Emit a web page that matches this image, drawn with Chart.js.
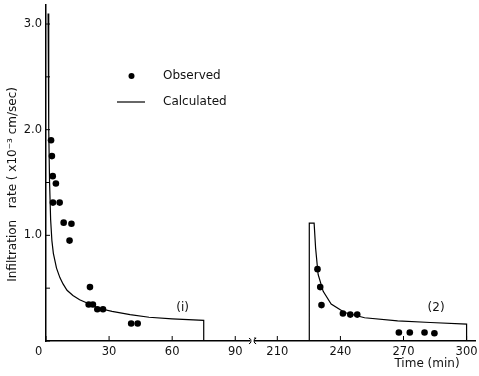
<!DOCTYPE html>
<html>
<head>
<meta charset="utf-8">
<script src="https://cdn.jsdelivr.net/npm/chart.js@4/dist/chart.umd.min.js"></script>
<style>
  html, body { margin: 0; background: #fff; }
  #wrap { width: 479px; height: 376px; }
</style>
</head>
<body>
<div id="wrap"><canvas id="c"></canvas></div>
<script>
// Observed infiltration rate (x10^-3 cm/sec) against time (min)
var obsTime = [2.4, 2.8, 3.2, 4.7, 3.3, 6.5, 8.4, 12.1, 11.2, 20.9, 20.3, 22.3, 24.4, 27.1, 40.5, 43.6,
               229.1, 230.4, 231.0, 241.2, 244.7, 248.0, 267.8, 273.0, 280.0, 284.7];
var obsRate = [1.90, 1.75, 1.56, 1.49, 1.31, 1.31, 1.12, 1.11, 0.95, 0.51, 0.345, 0.345, 0.30, 0.30, 0.165, 0.165,
               0.68, 0.51, 0.34, 0.26, 0.25, 0.25, 0.08, 0.08, 0.08, 0.073];

// Calculated curve, first application (1)
var calc1Time = [1.0, 1.2, 1.4, 1.7, 2.2, 2.8, 3.5, 5.0, 6.6, 8.1, 10, 12.8, 16, 20.6, 25, 31.4, 40, 49, 60, 75, 75];
var calc1Rate = [3.1, 2.6, 2.0, 1.5, 1.15, 0.95, 0.83, 0.69, 0.60, 0.54, 0.48, 0.43, 0.39, 0.35, 0.31, 0.28, 0.25, 0.225, 0.21, 0.195, 0];

// Calculated curve, second application (2)
var calc2Time = [225.2, 225.2, 227.5, 228.2, 229.4, 231.8, 235.6, 242, 251.5, 267.2, 282.8, 300, 300];
var calc2Rate = [0, 1.115, 1.115, 0.88, 0.63, 0.47, 0.35, 0.27, 0.22, 0.19, 0.175, 0.16, 0];

var xTickLabels = [0, 30, 60, 90, 210, 240, 270, 300];
var yTickValues = [0, 0.5, 1.0, 1.5, 2.0, 2.5, 3.0];
var yTickLabels = ['', '', '1.0', '', '2.0', '', '3.0'];

var segLabels = ['(i)', '(2)'];
var segLabelTime = [65, 285.5];
var segLabelRate = [0.31, 0.31];

// the time axis is broken between 90 and 210 min
var BREAK_SHIFT = 100;
function axisX(t) { return t > 150 ? t - BREAK_SHIFT : t; }
function pts(ts, vs) { return ts.map(function (t, i) { return { x: axisX(t), y: vs[i] }; }); }

var FONT = 'DejaVu Sans';
var INK = '#111';

var decor = {
  id: 'decor',
  afterDraw: function (chart) {
    var ctx = chart.ctx, xs = chart.scales.x, ys = chart.scales.y, a = chart.chartArea;
    ctx.save();
    ctx.strokeStyle = '#000';
    ctx.lineWidth = 1;
    // inward tick marks
    ctx.beginPath();
    xTickLabels.forEach(function (t) {
      var px = xs.getPixelForValue(axisX(t));
      ctx.moveTo(px, a.bottom); ctx.lineTo(px, a.bottom - 5);
    });
    yTickValues.forEach(function (v) {
      var py = ys.getPixelForValue(v);
      ctx.moveTo(a.left, py); ctx.lineTo(a.left + 4, py);
    });
    ctx.stroke();
    // axis break mark
    var bx = xs.getPixelForValue(97.5);
    ctx.fillStyle = '#fff';
    ctx.fillRect(bx - 1, a.bottom - 3, 4, 6);
    ctx.beginPath();
    ctx.arc(bx - 3, a.bottom, 3, -Math.PI / 2.5, Math.PI / 2.5);
    ctx.moveTo(bx + 3, a.bottom - 3);
    ctx.arc(bx + 6, a.bottom, 3, Math.PI + Math.PI / 2.5, Math.PI - Math.PI / 2.5, true);
    ctx.stroke();
    // segment labels
    ctx.fillStyle = INK;
    ctx.font = '12px "' + FONT + '"';
    ctx.textAlign = 'center';
    ctx.textBaseline = 'middle';
    segLabels.forEach(function (s, i) {
      ctx.fillText(s, xs.getPixelForValue(axisX(segLabelTime[i])), ys.getPixelForValue(segLabelRate[i]));
    });
    // x title
    ctx.fillText('Time (min)', 427, 364);
    // legend
    ctx.textAlign = 'left';
    ctx.beginPath();
    ctx.arc(131.5, 76, 3, 0, Math.PI * 2);
    ctx.fillStyle = '#000';
    ctx.fill();
    ctx.beginPath();
    ctx.moveTo(117, 102); ctx.lineTo(145, 102);
    ctx.lineWidth = 1.2;
    ctx.stroke();
    ctx.fillStyle = INK;
    ctx.fillText('Observed', 163, 76);
    ctx.fillText('Calculated', 163, 102);
    ctx.restore();
  }
};

new Chart(document.getElementById('c'), {
  type: 'scatter',
  data: {
    datasets: [
      {
        label: 'Observed',
        data: pts(obsTime, obsRate),
        backgroundColor: '#000',
        borderColor: '#000',
        pointRadius: 3.3,
        pointBorderWidth: 0
      },
      {
        label: 'Calculated',
        data: pts(calc1Time, calc1Rate),
        showLine: true,
        borderColor: '#000',
        borderWidth: 1.2,
        pointRadius: 0,
        tension: 0
      },
      {
        label: 'Calculated (2)',
        data: pts(calc2Time, calc2Rate),
        showLine: true,
        borderColor: '#000',
        borderWidth: 1.2,
        pointRadius: 0,
        tension: 0
      }
    ]
  },
  options: {
    responsive: true,
    maintainAspectRatio: false,
    animation: false,
    layout: { padding: { top: 5, right: 1, left: 0, bottom: 0 } },
    plugins: { legend: { display: false }, tooltip: { enabled: false } },
    scales: {
      x: {
        type: 'linear',
        min: 0,
        max: 204,
        grid: { display: false, drawTicks: false, tickLength: 0 },
        border: { display: true, color: '#000', width: 1.5 },
        afterBuildTicks: function (s) {
          s.ticks = xTickLabels.map(function (t) { return { value: axisX(t) }; });
        },
        afterFit: function (s) { s.height = 35; s.paddingLeft = 0; s.paddingRight = 0; },
        ticks: {
          autoSkip: false,
          maxRotation: 0,
          padding: 4,
          color: INK,
          font: { family: FONT, size: 11.5 },
          callback: function (v, i) {
            return i === 0 ? '0    ' : String(xTickLabels[i]);
          }
        }
      },
      y: {
        min: 0,
        max: 3.18,
        grid: { display: false, drawTicks: false, tickLength: 0 },
        border: { display: true, color: '#000', width: 1.5 },
        afterBuildTicks: function (s) {
          s.ticks = yTickValues.map(function (v) { return { value: v }; });
        },
        afterFit: function (s) { s.width = 46; s.paddingTop = 0; s.paddingBottom = 0; },
        ticks: {
          padding: 4,
          color: INK,
          font: { family: FONT, size: 11.5 },
          callback: function (v, i) { return yTickLabels[i]; }
        },
        title: {
          display: true,
          text: 'Infiltration   rate ( x10\u207B\u00B3 cm/sec)      ',
          color: INK,
          font: { family: FONT, size: 12 },
          padding: { top: 6, bottom: 0 }
        }
      }
    }
  },
  plugins: [decor]
});
</script>
</body>
</html>
